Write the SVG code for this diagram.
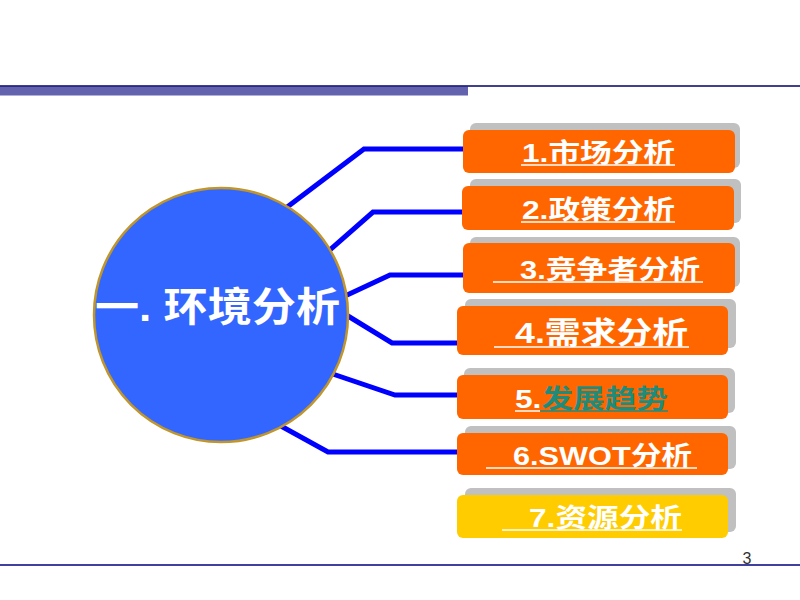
<svg xmlns="http://www.w3.org/2000/svg" width="800" height="600" viewBox="0 0 800 600">
<style>
.lbl{font-family:"Liberation Sans","Noto Sans CJK SC",sans-serif;font-weight:bold;font-size:26px;fill:#FFFFFF}
.ul{stroke:#FFFFFF;stroke-width:1.5}
.shadow{fill:#C0C0C0}
.box{fill:#FF6600}
.conn{fill:none;stroke:#0000FF;stroke-width:5;stroke-linejoin:miter}
</style>
<rect width="800" height="600" fill="#FFFFFF"/>
<g id="header">
<rect x="0" y="86.5" width="468" height="9" fill="#6262AE"/>
<line x1="0" y1="86" x2="800" y2="86" stroke="#000066" stroke-width="1.5"/>
</g>
<g id="footer">
<line x1="0" y1="565" x2="800" y2="565" stroke="#000080" stroke-width="1.5"/>
<text x="747" y="564" font-family="Liberation Sans,sans-serif" font-size="16" fill="#333333" text-anchor="middle">3</text>
</g>
<g id="connectors">
<polyline class="conn" points="270,220 364,149 465,149"/>
<polyline class="conn" points="315,263 373,212 465,212"/>
<polyline class="conn" points="330,303 390,275 465,275"/>
<polyline class="conn" points="330,305 392,343 460,343"/>
<polyline class="conn" points="315,368 395,395 460,395"/>
<polyline class="conn" points="270,420 328,452 460,452"/>
</g>
<g id="center">
<circle cx="221" cy="315" r="127" fill="#3366FF" stroke="#C0962C" stroke-width="2.5"/>
<text x="95" y="321" font-family="Liberation Sans,'Noto Sans CJK SC',sans-serif" font-size="40" font-weight="bold" fill="#FFFFFF" textLength="245" lengthAdjust="spacingAndGlyphs">一. 环境分析</text>
</g>
<g id="n1">
<rect class="shadow" x="470" y="123" width="270" height="45" rx="6"/>
<rect class="box" x="463" y="130" width="272" height="43" rx="6"/>
<text class="lbl" x="522" y="162" textLength="153" lengthAdjust="spacingAndGlyphs">1.市场分析</text>
<line class="ul" x1="521" y1="165" x2="675" y2="165"/>
</g>
<g id="n2">
<rect class="shadow" x="470" y="179" width="271" height="44" rx="6"/>
<rect class="box" x="462" y="186" width="272" height="44" rx="6"/>
<text class="lbl" x="522" y="219" textLength="153" lengthAdjust="spacingAndGlyphs">2.政策分析</text>
<line class="ul" x1="521" y1="222" x2="675" y2="222"/>
</g>
<g id="n3">
<rect class="shadow" x="470" y="237" width="270" height="50" rx="6"/>
<rect class="box" x="463" y="243" width="272" height="50" rx="6"/>
<text class="lbl" x="520" y="279" textLength="180" lengthAdjust="spacingAndGlyphs">3.竞争者分析</text>
<line class="ul" x1="493" y1="282" x2="703" y2="282"/>
</g>
<g id="n4">
<rect class="shadow" x="465" y="299" width="271" height="49" rx="6"/>
<rect class="box" x="457" y="306" width="271" height="49" rx="6"/>
<text class="lbl" x="515" y="343" style="font-size:30px" textLength="173" lengthAdjust="spacingAndGlyphs">4.需求分析</text>
<line class="ul" x1="494" y1="347" x2="689" y2="347"/>
</g>
<g id="n5">
<rect class="shadow" x="464" y="368" width="271" height="45" rx="6"/>
<rect class="box" x="457" y="375" width="271" height="44" rx="6"/>
<text class="lbl" x="515" y="408" textLength="153" lengthAdjust="spacingAndGlyphs">5.<tspan fill="#1E8C7C">发展趋势</tspan></text>
<line class="ul" x1="515" y1="411" x2="540" y2="411"/>
<line x1="540" y1="411" x2="668" y2="411" stroke="#1E8C7C" stroke-width="1.5"/>
</g>
<g id="n6">
<rect class="shadow" x="465" y="426" width="271" height="43" rx="6"/>
<rect class="box" x="457" y="433" width="271" height="42" rx="6"/>
<text class="lbl" x="513" y="465" textLength="179" lengthAdjust="spacingAndGlyphs">6.SWOT分析</text>
<line class="ul" x1="486" y1="468" x2="697" y2="468"/>
</g>
<g id="n7">
<rect class="shadow" x="465" y="488" width="271" height="44" rx="6"/>
<rect x="457" y="495" width="271" height="43" rx="6" fill="#FFCC00"/>
<text class="lbl" x="529" y="527" textLength="153" lengthAdjust="spacingAndGlyphs">7.资源分析</text>
<line class="ul" x1="502" y1="530" x2="682" y2="530"/>
</g>
</svg>
